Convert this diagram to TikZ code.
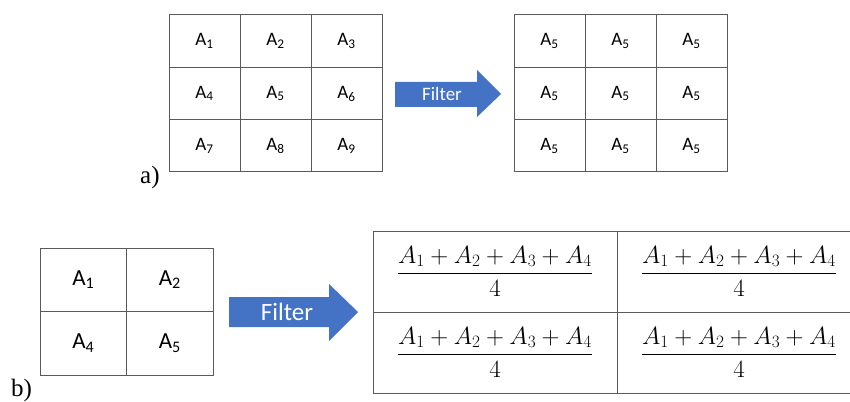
\documentclass[tikz,border=0pt]{standalone}
\usepackage{amsmath}
\usepackage{fontspec}
\setmainfont{Liberation Serif}
\newfontfamily\calibri{Carlito}
\usetikzlibrary{calc}
\definecolor{gridline}{HTML}{5A5A5A}
\definecolor{office}{HTML}{4472C4}

\begin{document}
\begin{tikzpicture}[
  x=1pt, y=-1pt,
  cell/.style={draw=gridline, line width=1pt, inner sep=0pt, outer sep=0pt},
  small/.style={font=\calibri\fontsize{19}{22}\selectfont},
  big/.style={font=\calibri\fontsize{23}{26}\selectfont},
  frac/.style={font=\fontsize{26}{30}\selectfont},
  filterlbl/.style={text=white, inner sep=0pt},
  tag/.style={font=\fontsize{25}{28}\selectfont, anchor=north west, inner sep=0pt},
]
\useasboundingbox (0,0) rectangle (850,401);
\def\Aw{71}   \def\Ah{52.33}   % bunky 3x3
\def\Bw{86.5} \def\Bh{63.5}    % bunky 2x2
\def\Cw{244}  \def\Ch{81}      % bunky vysledku

% --- a) vstup a vystup 3x3
\foreach \r in {0,1,2} {
  \foreach \c in {0,1,2} {
    \pgfmathtruncatemacro{\k}{3*\r+\c+1}
    \node[cell, small, minimum width=\Aw pt, minimum height=\Ah pt]
      (in-\k) at ({169+\Aw*(\c+0.5)},{15+\Ah*(\r+0.5)}) {A\textsubscript{\k}};
    \node[cell, small, minimum width=\Aw pt, minimum height=\Ah pt]
      (out-\k) at ({514+\Aw*(\c+0.5)},{15+\Ah*(\r+0.5)}) {A\textsubscript{5}};
  }
}
\node[tag] (tag-a) at (140,166) {a)};

% --- sipka Filter (a)
\fill[office] (395,82) -- (477,82) -- (477,70) -- (501,94) -- (477,117)
  -- (477,107) -- (395,107) -- cycle;
\node[filterlbl, font=\calibri\fontsize{19}{22}\selectfont] (filter-a) at (442,94) {Filter};

% --- b) vstup 2x2
\foreach \k/\c/\r in {1/0/0, 2/1/0, 4/0/1, 5/1/1} {
  \node[cell, big, minimum width=\Bw pt, minimum height=\Bh pt]
    (win-\k) at ({40+\Bw*(\c+0.5)},{248+\Bh*(\r+0.5)}) {A\textsubscript{\k}};
}
\node[tag] (tag-b) at (11,378.5) {b)};

% --- sipka Filter (b)
\fill[office] (229,297) -- (329,297) -- (329,284) -- (358,312) -- (329,341)
  -- (329,327) -- (229,327) -- cycle;
\node[filterlbl, font=\calibri\fontsize{25}{28}\selectfont] (filter-b) at (287,312) {Filter};

% --- b) vystup: prumer (pravy okraj mimo obrazek)
\foreach \c in {0,1} {
  \foreach \r in {0,1} {
    \node[cell, frac, minimum width=\Cw pt, minimum height=\Ch pt]
      (avg-\c\r) at ({373+\Cw*(\c+0.5)},{231+\Ch*(\r+0.5)})
      {$\dfrac{A_1+A_2+A_3+A_4}{4}$};
  }
}
\end{tikzpicture}
\end{document}
